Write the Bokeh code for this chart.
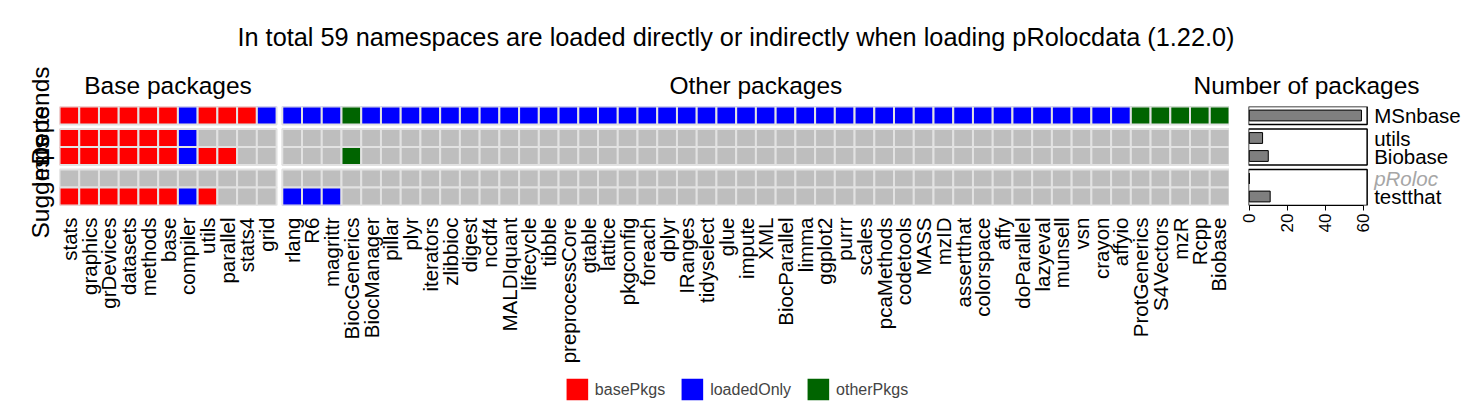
from math import pi, nan
from bokeh.plotting import figure
from bokeh.models import (FactorRange, Range1d, ColumnDataSource, CategoricalAxis,
                          LinearAxis, FixedTicker, Legend, LegendItem)
from bokeh.core.properties import value
from bokeh.layouts import column, row
from bokeh.embed import file_html
from bokeh.resources import INLINE

# ---------------- data ----------------
TITLE = "In total 59 namespaces are loaded directly or indirectly when loading pRolocdata (1.22.0)"
panel_groups = ["Base packages", "Other packages"]
bar_title = "Number of packages"

base_pkgs = ["stats", "graphics", "grDevices", "datasets", "methods", "base",
             "compiler", "utils", "parallel", "stats4", "grid"]
other_pkgs = ["rlang", "R6", "magrittr", "BiocGenerics", "BiocManager", "pillar", "plyr",
              "iterators", "zlibbioc", "digest", "ncdf4", "MALDIquant", "lifecycle", "tibble",
              "preprocessCore", "gtable", "lattice", "pkgconfig", "foreach", "dplyr", "IRanges",
              "tidyselect", "glue", "impute", "XML", "BiocParallel", "limma", "ggplot2", "purrr",
              "scales", "pcaMethods", "codetools", "MASS", "mzID", "assertthat", "colorspace",
              "affy", "doParallel", "lazyeval", "munsell", "vsn", "crayon", "affyio",
              "ProtGenerics", "S4Vectors", "mzR", "Rcpp", "Biobase"]

row_names = ["MSnbase", "utils", "Biobase", "pRoloc", "testthat"]
row_groups = ["Depends", "Imports", "Imports", "Suggests", "Suggests"]
row_label_color = ["black", "black", "black", "#a6a6a6", "black"]
row_label_style = ["normal", "normal", "normal", "italic", "normal"]

# R = basePkgs, B = loadedOnly, G = otherPkgs, . = not loaded
base_status = {
    "MSnbase":  "RRRRRRBRRRB",
    "utils":    "RRRRRRB....",
    "Biobase":  "RRRRRRBRR..",
    "pRoloc":   "...........",
    "testthat": "RRRRRRBR...",
}
other_status = {
    "MSnbase":  "BBBGBBBB" "BBBBBBBB" "BBBBBBBB" "BBBBBBBB" "BBBBBBBB" "BBBGGGGG",
    "utils":    "........" "........" "........" "........" "........" "........",
    "Biobase":  "...G...." "........" "........" "........" "........" "........",
    "pRoloc":   "........" "........" "........" "........" "........" "........",
    "testthat": "BBB....." "........" "........" "........" "........" "........",
}
n_packages = [59, 7, 10, 0, 11]
bar_ticks = [0, 20, 40, 60]

code_names = {"R": "basePkgs", "B": "loadedOnly", "G": "otherPkgs", ".": "none"}
status_colors = {"basePkgs": "#ff0000", "loadedOnly": "#0000ff",
                 "otherPkgs": "#006400", "none": "#bebebe"}
legend_order = ["basePkgs", "loadedOnly", "otherPkgs"]

FONT = "Liberation Sans"
Y_PAD = 0.25

# ---------------- ranges ----------------
x_factors = [(panel_groups[0], p) for p in base_pkgs] + [(panel_groups[1], p) for p in other_pkgs]
y_factors = list(zip(row_groups, row_names))[::-1]

# ---------------- title figure ----------------
tfig = figure(width=1471, height=60, toolbar_location=None, output_backend="svg",
              min_border=0, min_border_top=55, x_axis_location=None, y_axis_location=None,
              title=TITLE)
tfig.outline_line_color = None
tfig.grid.visible = False
tfig.title.align = "center"
tfig.title.text_font = FONT
tfig.title.text_font_size = "25.3px"
tfig.title.text_font_style = "normal"
tfig.title.text_color = "black"
tfig.scatter(x=[0], y=[0], alpha=0)

# ---------------- heatmap ----------------
heat = figure(width=1229, height=306, toolbar_location=None, output_backend="svg",
              x_range=FactorRange(*x_factors, group_padding=0.29, range_padding=0),
              y_range=FactorRange(*y_factors, group_padding=Y_PAD, range_padding=0),
              x_axis_location=None, y_axis_location=None,
              min_border_left=59, min_border_right=0, min_border_top=46, min_border_bottom=160)
heat.outline_line_color = None
heat.grid.visible = False

xs, ys, cols = [], [], []
for g, r in zip(row_groups, row_names):
    for pkg, c in zip(base_pkgs, base_status[r]):
        xs.append((panel_groups[0], pkg)); ys.append((g, r)); cols.append(status_colors[code_names[c]])
    for pkg, c in zip(other_pkgs, other_status[r]):
        xs.append((panel_groups[1], pkg)); ys.append((g, r)); cols.append(status_colors[code_names[c]])
heat.rect(x="x", y="y", width=1, height=1, fill_color="c", line_color="#e2e2e2", line_width=2,
          source=ColumnDataSource(dict(x=xs, y=ys, c=cols)))

ax_b = CategoricalAxis(major_label_orientation=pi / 2, major_label_text_font_size="20.5px",
                       major_label_text_font=FONT, major_label_text_color="black",
                       group_text_color=None, axis_line_color=None,
                       major_tick_line_color=None, minor_tick_line_color=None,
                       separator_line_color=None, major_label_standoff=6)
heat.add_layout(ax_b, "below")
ax_t = CategoricalAxis(major_label_text_color=None, group_text_font_size="24.5px",
                       group_text_font=FONT, group_text_color="black", group_text_font_style="normal",
                       group_label_orientation="horizontal", axis_line_color=None,
                       major_tick_line_color=None, minor_tick_line_color=None,
                       separator_line_color=None, major_label_standoff=2)
heat.add_layout(ax_t, "above")
ax_l = CategoricalAxis(major_label_text_color=None, group_text_font_size="24.5px",
                       group_text_font=FONT, group_text_color="black", group_text_font_style="normal",
                       group_label_orientation="parallel", axis_line_color=None,
                       major_tick_line_color=None, minor_tick_line_color=None,
                       separator_line_color=None, major_label_standoff=0)
heat.add_layout(ax_l, "left")

# ---------------- bar chart ----------------
bx0, bx1 = -0.4, 62.0          # panel limits
bx_view_end = 115.3            # room to the right of the panels for the row labels
bar = figure(width=293, height=306, toolbar_location=None, output_backend="svg",
             x_range=Range1d(bx0, bx_view_end),
             y_range=FactorRange(*y_factors, group_padding=Y_PAD, range_padding=0),
             x_axis_location=None, y_axis_location=None, title=bar_title,
             min_border_left=70, min_border_right=3, min_border_top=46, min_border_bottom=160,
             margin=(0, 0, 0, -51))
bar.outline_line_color = None
bar.grid.visible = False
bar.border_fill_color = None
bar.background_fill_color = None
bar.title.align = "left"
bar.title.offset = -55
bar.title.text_font = FONT
bar.title.text_font_size = "24.5px"
bar.title.text_font_style = "normal"
bar.title.text_color = "black"
bar.title.standoff = 16

grp_names = list(dict.fromkeys(row_groups))
grp_sizes = [row_groups.count(g) for g in grp_names]
bar.rect(x=(bx0 + bx1) / 2, y=grp_names, width=bx1 - bx0, height=grp_sizes,
         fill_color="white", line_color="black", line_width=1.5)
row_keys = list(zip(row_groups, row_names))
bar.hbar(y=row_keys, left=0, right=n_packages, height=0.6,
         fill_color="#7f7f7f", line_color="black", line_width=1)
bar.text(x=bx1, y="y", text="t", text_color="c", text_font_style="s",
         x_offset=7, text_baseline="middle", text_align="left",
         text_font=value(FONT), text_font_size=value("20.5px"),
         source=ColumnDataSource(dict(y=row_keys, t=row_names, c=row_label_color,
                                      s=row_label_style)))

ax_bb = LinearAxis(ticker=FixedTicker(ticks=bar_ticks), bounds=(bar_ticks[0], bar_ticks[-1]),
                   major_label_orientation=pi / 2,
                   major_label_text_font_size="17px", major_label_text_font=FONT,
                   major_label_text_color="black", axis_line_color="black",
                   major_tick_line_color="black", major_tick_out=5, major_tick_in=0,
                   minor_tick_line_color=None, major_label_standoff=3)
bar.add_layout(ax_bb, "below")

# ---------------- legend ----------------
lfig = figure(width=1471, height=46, toolbar_location=None, output_backend="svg",
              min_border=0, x_axis_location=None, y_axis_location=None)
lfig.outline_line_color = None
lfig.grid.visible = False
items = []
for s in legend_order:
    r = lfig.rect(x=[nan], y=[nan], width=1, height=1, fill_color=status_colors[s], line_color=None)
    items.append(LegendItem(label=s, renderers=[r]))
leg = Legend(items=items, orientation="horizontal", location="center",
             border_line_color=None, background_fill_alpha=0,
             glyph_width=27, glyph_height=27, label_standoff=5, spacing=13,
             padding=0, margin=0, label_text_font=FONT, label_text_font_size="16px")
lfig.add_layout(leg, "center")

layout = column(tfig, row(heat, bar), lfig)
open("out.html", "w").write(file_html(layout, INLINE))
